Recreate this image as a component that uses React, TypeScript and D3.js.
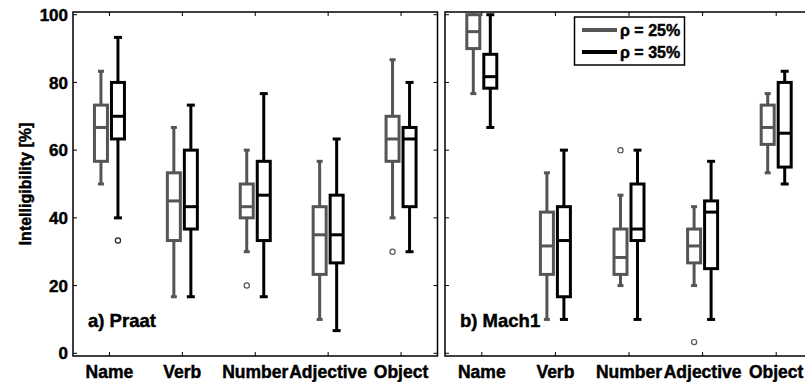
import React from "react";
import * as d3 from "d3";

const categories = ["Name", "Verb", "Number", "Adjective", "Object"];
const yTicks = [0, 20, 40, 60, 80, 100];

// [lowerWhisker, q1, median, q3, upperWhisker]
const praat25 = [
  [50, 56.7, 66.7, 73.3, 83.3],
  [16.7, 33.3, 45, 53.3, 66.7],
  [30, 40, 43.3, 50, 60],
  [10, 23.3, 35, 43.3, 56.7],
  [40, 56.7, 63.3, 70, 86.7],
];
const praat35 = [
  [40, 63.3, 70, 80, 93.3],
  [16.7, 36.7, 43.3, 60, 73.3],
  [16.7, 33.3, 46.7, 56.7, 76.7],
  [6.7, 26.7, 35, 46.7, 63.3],
  [30, 43.3, 63.3, 66.7, 80],
];
const mach25 = [
  [76.7, 90, 95, 100, 100],
  [10, 23.3, 31.7, 41.7, 53.3],
  [20, 23.3, 28.3, 36.7, 46.7],
  [20, 26.7, 31.7, 36.7, 43.3],
  [53.3, 61.7, 66.7, 73.3, 76.7],
];
const mach35 = [
  [66.7, 78.3, 81.7, 88.3, 100],
  [10, 16.7, 33.3, 43.3, 60],
  [10, 33.3, 36.7, 50, 60],
  [10, 25, 41.7, 45, 56.7],
  [50, 55, 65, 80, 83.3],
];
// outliers: [categoryIndex, value]
const praat25Out = [[2, 20], [4, 30]];
const praat35Out = [[0, 33.3]];
const mach25Out = [[2, 60], [3, 3.3]];
const mach35Out: number[][] = [];

const seriesLabels = ["ρ = 25%", "ρ = 35%"];
const panelLabels = ["a) Praat", "b) Mach1"];

const GRAY = "#555555";
const BLACK = "#000000";
const FONT = "'Liberation Sans', Arial, Helvetica, sans-serif";
const TXT = { fontWeight: "bold" as const, fontFamily: FONT, fill: "#000", stroke: "#000", strokeWidth: 0.45 };

const TOP = 12;
const BOTTOM = 356;

const y = d3.scaleLinear().domain([-0.8, 100.8]).range([BOTTOM, TOP]);

function Box({ cx, stats, color, capW }: { cx: number; stats: number[]; color: string; capW: number }) {
  const [lo, q1, med, q3, hi] = stats;
  const bw = 13;
  return (
    <g stroke={color} strokeWidth={3} fill="none">
      <line x1={cx} x2={cx} y1={y(lo)} y2={y(q1)} />
      <line x1={cx} x2={cx} y1={y(q3)} y2={y(hi)} />
      <line x1={cx - capW / 2} x2={cx + capW / 2} y1={y(lo)} y2={y(lo)} />
      <line x1={cx - capW / 2} x2={cx + capW / 2} y1={y(hi)} y2={y(hi)} />
      <rect x={cx - bw / 2} y={y(q3)} width={bw} height={y(q1) - y(q3)} fill="white" />
      <line x1={cx - bw / 2} x2={cx + bw / 2} y1={y(med)} y2={y(med)} />
    </g>
  );
}

function Panel({
  x0, x1, s25, s35, o25, o35, label, showYLabels,
}: {
  x0: number; x1: number; s25: number[][]; s35: number[][]; o25: number[][]; o35: number[][]; label: string; showYLabels: boolean;
}) {
  const x = d3.scaleLinear().domain([0.5, 5.5]).range([x0, x1]);
  const tl = 4;
  const off = 8.5;
  return (
    <g>
      <rect x={x0} y={TOP} width={x1 - x0} height={BOTTOM - TOP} fill="white" stroke="none" />
      {yTicks.map((t) => (
        <g key={"yt" + t} stroke="#000" strokeWidth={1}>
          <line x1={x0} x2={x0 + tl} y1={y(t)} y2={y(t)} />
          <line x1={x1} x2={x1 - tl} y1={y(t)} y2={y(t)} />
        </g>
      ))}
      {categories.map((c, i) => (
        <g key={"xt" + c} stroke="#000" strokeWidth={1}>
          <line x1={x(i + 1)} x2={x(i + 1)} y1={BOTTOM} y2={BOTTOM - tl} />
          <line x1={x(i + 1)} x2={x(i + 1)} y1={TOP} y2={TOP + tl} />
        </g>
      ))}
      {s25.map((s, i) => (
        <Box key={"g" + i} cx={x(i + 1) - off} stats={s} color={GRAY} capW={6} />
      ))}
      {s35.map((s, i) => (
        <Box key={"b" + i} cx={x(i + 1) + off} stats={s} color={BLACK} capW={8} />
      ))}
      {o25.map(([ci, v], k) => (
        <circle key={"og" + k} cx={x(ci + 1) - off} cy={y(v)} r={2.6} fill="white" stroke={GRAY} strokeWidth={1.2} />
      ))}
      {o35.map(([ci, v], k) => (
        <circle key={"ob" + k} cx={x(ci + 1) + off} cy={y(v)} r={2.6} fill="white" stroke="#222" strokeWidth={1.2} />
      ))}
      <rect x={x0} y={TOP} width={x1 - x0} height={BOTTOM - TOP} fill="none" stroke="#000" strokeWidth={1.5} />
      {categories.map((c, i) => (
        <text key={"xl" + c} x={x(i + 1)} y={378} textAnchor="middle" fontSize={17.5} {...TXT}>
          {c}
        </text>
      ))}
      {showYLabels &&
        yTicks.map((t) => (
          <text key={"yl" + t} x={68} y={y(t)} dy="0.36em" textAnchor="end" fontSize={17} {...TXT}>
            {t}
          </text>
        ))}
      <text x={x0 + 15} y={327} fontSize={18.5} {...TXT}>
        {label}
      </text>
    </g>
  );
}

export default function App() {
  return (
    <svg width={805} height={382} style={{ position: "absolute", left: 0, top: 0, background: "white" }}>
      <rect x={0} y={0} width={805} height={382} fill="white" />
      <Panel x0={73} x1={437.5} s25={praat25} s35={praat35} o25={praat25Out} o35={praat35Out} label={panelLabels[0]} showYLabels={true} />
      <Panel x0={445} x1={813} s25={mach25} s35={mach35} o25={mach25Out} o35={mach35Out} label={panelLabels[1]} showYLabels={false} />
      <text transform="translate(25,184) rotate(-90)" textAnchor="middle" dy="0.36em" fontSize={16} {...TXT}>
        Intelligibility [%]
      </text>
      <g>
        <rect x={574.5} y={17} width={110} height={48} fill="white" stroke="#000" strokeWidth={1.5} />
        <line x1={582} x2={617} y1={30} y2={30} stroke={GRAY} strokeWidth={4} />
        <line x1={582} x2={617} y1={52} y2={52} stroke={BLACK} strokeWidth={4} />
        <text x={620} y={30} dy="0.36em" fontSize={16} {...TXT}>{seriesLabels[0]}</text>
        <text x={620} y={52} dy="0.36em" fontSize={16} {...TXT}>{seriesLabels[1]}</text>
      </g>
    </svg>
  );
}
